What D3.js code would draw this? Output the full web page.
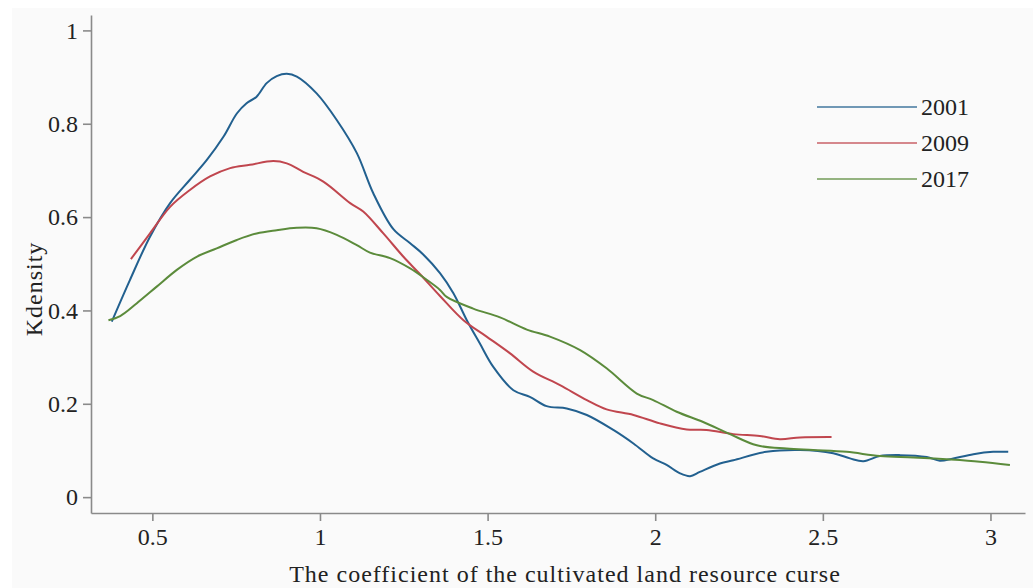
<!DOCTYPE html>
<html>
<head>
<meta charset="utf-8">
<script src="https://cdn.jsdelivr.net/npm/d3@7"></script>
<style>
  body { margin: 0; background: #fff; }
  .axis path, .axis line { stroke: #8a8a8a; stroke-width: 1.6; }
  .axis text { font-family: "Liberation Serif", serif; font-size: 24px; fill: #222; }
  .lbl { font-family: "Liberation Serif", serif; font-size: 24px; fill: #222; }
</style>
</head>
<body>
<script>
// kernel density curves: [coefficient, density]
const series2001 = [
  [0.379,0.376],[0.433,0.465],[0.493,0.558],[0.553,0.630],[0.612,0.680],[0.662,0.722],
  [0.712,0.772],[0.752,0.822],[0.781,0.844],[0.811,0.858],[0.841,0.887],[0.871,0.902],
  [0.901,0.907],[0.931,0.901],[0.990,0.865],[1.050,0.808],[1.110,0.737],[1.159,0.651],
  [1.219,0.574],[1.269,0.544],[1.308,0.520],[1.358,0.480],[1.398,0.437],[1.438,0.379],
  [1.477,0.329],[1.517,0.279],[1.577,0.229],[1.626,0.215],[1.676,0.195],[1.736,0.190],
  [1.796,0.176],[1.875,0.144],[1.935,0.115],[1.994,0.083],[2.034,0.069],[2.074,0.051],
  [2.104,0.045],[2.133,0.054],[2.193,0.072],[2.233,0.079],[2.332,0.097],[2.432,0.101],
  [2.531,0.094],[2.581,0.083],[2.621,0.077],[2.670,0.088],[2.730,0.090],[2.810,0.086],
  [2.849,0.078],[2.889,0.083],[2.949,0.092],[3.008,0.097],[3.053,0.097]
];
const series2009 = [
  [0.436,0.510],[0.493,0.565],[0.553,0.622],[0.612,0.658],[0.672,0.687],[0.732,0.705],
  [0.791,0.712],[0.861,0.720],[0.901,0.715],[0.950,0.697],[1.010,0.676],[1.090,0.630],
  [1.129,0.612],[1.189,0.565],[1.249,0.515],[1.298,0.478],[1.358,0.431],[1.428,0.379],
  [1.497,0.344],[1.567,0.308],[1.636,0.269],[1.716,0.240],[1.796,0.208],[1.855,0.188],
  [1.935,0.176],[2.014,0.158],[2.094,0.145],[2.153,0.144],[2.233,0.135],[2.312,0.131],
  [2.372,0.124],[2.432,0.128],[2.526,0.129]
];
const series2017 = [
  [0.369,0.379],[0.404,0.388],[0.453,0.415],[0.513,0.451],[0.573,0.487],[0.632,0.515],
  [0.692,0.533],[0.752,0.551],[0.811,0.565],[0.871,0.572],[0.931,0.577],[0.990,0.576],
  [1.050,0.562],[1.110,0.540],[1.149,0.524],[1.209,0.512],[1.269,0.490],[1.308,0.471],
  [1.358,0.444],[1.378,0.429],[1.457,0.404],[1.537,0.385],[1.617,0.359],[1.686,0.344],
  [1.776,0.315],[1.855,0.276],[1.945,0.222],[1.994,0.208],[2.064,0.183],[2.143,0.161],
  [2.223,0.135],[2.303,0.111],[2.392,0.104],[2.471,0.101],[2.571,0.097],[2.670,0.088],
  [2.770,0.085],[2.869,0.081],[2.968,0.076],[3.058,0.069]
];
const years = ["2001", "2009", "2017"];
const colors = ["#22608f", "#c0464e", "#5b8b3b"];
const xTicks = [0.5, 1, 1.5, 2, 2.5, 3];
const yTicks = [0, 0.2, 0.4, 0.6, 0.8, 1];

const width = 1033, height = 588;
const svg = d3.select("body").append("svg")
  .attr("width", width).attr("height", height);

// light panel behind the plot
svg.append("rect").attr("x", 12).attr("y", 8)
  .attr("width", width - 12).attr("height", height - 8)
  .attr("fill", "#fafafa");

const x = d3.scaleLinear().domain([0.317, 3.103]).range([91, 1025]);
const y = d3.scaleLinear().domain([-0.034, 1.033]).range([513, 15]);

svg.append("g").attr("class", "axis")
  .attr("transform", "translate(91,0)")
  .call(d3.axisLeft(y).tickValues(yTicks).tickSize(8).tickSizeOuter(0).tickPadding(5)
        .tickFormat(d3.format("")));

svg.append("g").attr("class", "axis")
  .attr("transform", "translate(0,513)")
  .call(d3.axisBottom(x).tickValues(xTicks).tickSize(8).tickSizeOuter(0).tickPadding(7)
        .tickFormat(d3.format("")));

const line = d3.line()
  .x(d => x(d[0]))
  .y(d => y(d[1]))
  .curve(d3.curveCatmullRom.alpha(0.5));

[series2001, series2009, series2017].forEach((s, i) => {
  svg.append("path")
    .datum(s)
    .attr("fill", "none")
    .attr("stroke", colors[i])
    .attr("stroke-width", 2)
    .attr("d", line);
});

// legend
const legend = svg.append("g");
years.forEach((yr, i) => {
  const ly = 107 + i * 36;
  legend.append("line")
    .attr("x1", 817).attr("x2", 917).attr("y1", ly).attr("y2", ly)
    .attr("stroke", colors[i]).attr("stroke-width", 1.6).attr("opacity", 0.85);
  legend.append("text").attr("class", "lbl")
    .attr("x", 921).attr("y", ly + 8).text(yr);
});

// axis titles
svg.append("text").attr("class", "lbl")
  .attr("x", 565).attr("y", 582)
  .attr("text-anchor", "middle")
  .style("letter-spacing", "1px")
  .text("The coefficient of the cultivated land resource curse");

svg.append("text").attr("class", "lbl")
  .attr("transform", "translate(42,289) rotate(-90)")
  .attr("text-anchor", "middle")
  .style("letter-spacing", "1px")
  .text("Kdensity");
</script>
</body>
</html>
